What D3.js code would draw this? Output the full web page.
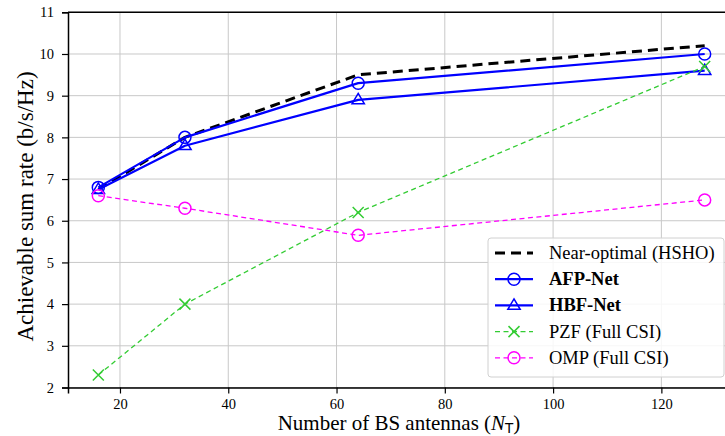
<!DOCTYPE html>
<html><head><meta charset="utf-8">
<script src="https://cdn.jsdelivr.net/npm/d3@7"></script>
<style>body{margin:0;background:#fff}svg{display:block}text{font-family:"Liberation Serif","Times New Roman",serif}</style>
</head><body><svg id="c" width="725" height="436"></svg>
<script>
const antennas = [16, 32, 64, 128];
const hsho = [6.75, 8.0, 9.5, 10.2];
const afp = [6.8, 8.0, 9.3, 10.0];
const hbf = [6.75, 7.8, 8.9, 9.6];
const pzf = [2.3, 4.0, 6.2, 9.7];
const omp = [6.6, 6.3, 5.65, 6.5];
const xTicks = [20, 40, 60, 80, 100, 120];
const yTicks = [2, 3, 4, 5, 6, 7, 8, 9, 10, 11];
const legendLabels = ["Near-optimal (HSHO)", "AFP-Net", "HBF-Net", "PZF (Full CSI)", "OMP (Full CSI)"];

const svg = d3.select("#c");
const L = 68, R = 735, T = 12.3, B = 387.5;
const x = d3.scaleLinear().domain([10.4, 133.6]).range([L, R]);
const y = d3.scaleLinear().domain([2, 11]).range([B, T]);

svg.append("defs").append("clipPath").attr("id", "cp")
  .append("rect").attr("x", L).attr("y", T - 8).attr("width", R - L).attr("height", B - T + 8);

// grid
const g = svg.append("g");
g.selectAll(".gx").data(xTicks).enter().append("line")
  .attr("x1", d => x(d)).attr("x2", d => x(d)).attr("y1", T).attr("y2", B)
  .attr("stroke", "#c8c8c8").attr("stroke-width", 1);
g.selectAll(".gy").data(yTicks).enter().append("line")
  .attr("x1", L).attr("x2", R).attr("y1", d => y(d)).attr("y2", d => y(d))
  .attr("stroke", "#c8c8c8").attr("stroke-width", 1);

// axes
const xAxis = d3.axisBottom(x).tickValues(xTicks).tickSize(6).tickPadding(5);
const yAxis = d3.axisLeft(y).tickValues(yTicks).tickSize(6).tickPadding(8);
const gx = svg.append("g").attr("transform", `translate(0,${B})`).call(xAxis);
const gy = svg.append("g").attr("transform", `translate(${L},0)`).call(yAxis);
[gx, gy].forEach(a => {
  a.attr("font-family", "Liberation Serif, serif");
  a.selectAll("text").attr("font-size", 14.5).attr("fill", "#000").style("font-family", "'Liberation Serif',serif");
  a.selectAll("line").attr("stroke", "#000").attr("stroke-width", 1.2);
  a.select(".domain").attr("stroke", "#000").attr("stroke-width", 1.5);
});
svg.append("line").attr("x1", L).attr("x2", R).attr("y1", T).attr("y2", T).attr("stroke", "#000").attr("stroke-width", 1.5);

const plot = svg.append("g").attr("clip-path", "url(#cp)");
const line = d3.line().x(d => x(d[0])).y(d => y(d[1]));
const pts = vals => antennas.map((a, i) => [a, vals[i]]);

const series = [
  {v: hsho, color: "#000", w: 3, dash: "10,6", marker: null},
  {v: afp, color: "#0000ff", w: 2.2, dash: null, marker: "circle"},
  {v: hbf, color: "#0000ff", w: 2.2, dash: null, marker: "tri"},
  {v: pzf, color: "#33cc33", w: 1.3, dash: "5,3.5", marker: "x"},
  {v: omp, color: "#ff00ff", w: 1.3, dash: "5,3.5", marker: "circle"}
];

function drawMarker(sel, type, color, cx, cy) {
  if (type === "circle") {
    sel.append("circle").attr("cx", cx).attr("cy", cy).attr("r", 6)
      .attr("fill", "none").attr("stroke", color).attr("stroke-width", 1.5);
  } else if (type === "tri") {
    const r = 6.5;
    sel.append("path").attr("d", `M${cx},${cy - r}L${cx + r * 0.95},${cy + r * 0.6}L${cx - r * 0.95},${cy + r * 0.6}Z`)
      .attr("fill", "none").attr("stroke", color).attr("stroke-width", 1.5);
  } else if (type === "x") {
    const r = 5.5;
    sel.append("path").attr("d", `M${cx - r},${cy - r}L${cx + r},${cy + r}M${cx - r},${cy + r}L${cx + r},${cy - r}`)
      .attr("stroke", color).attr("stroke-width", 1.5);
  }
}

series.forEach(s => {
  plot.append("path").datum(pts(s.v)).attr("d", line).attr("fill", "none")
    .attr("stroke", s.color).attr("stroke-width", s.w)
    .attr("stroke-dasharray", s.dash).attr("stroke-linejoin", "round");
  if (s.marker) pts(s.v).forEach(p => drawMarker(plot, s.marker, s.color, x(p[0]), y(p[1])));
});

// labels
svg.append("text").attr("x", 399).attr("y", 430).attr("text-anchor", "middle").attr("font-size", 21)
  .html('Number of BS antennas (<tspan font-style="italic">N</tspan><tspan font-size="13.5" dy="2.5" font-family="DejaVu Sans">T</tspan><tspan dy="-2.5">)</tspan>');
svg.append("text").attr("transform", "translate(33,206.5) rotate(-90)").attr("text-anchor", "middle")
  .attr("font-size", 23).text("Achievable sum rate (b/s/Hz)");

// legend
const lg = svg.append("g");
lg.append("rect").attr("x", 488).attr("y", 238).attr("width", 236).attr("height", 139).attr("rx", 3)
  .attr("fill", "rgba(255,255,255,0.85)").attr("stroke", "#d0d0d0").attr("stroke-width", 1);
series.forEach((s, i) => {
  const yy = 253 + i * 26.2;
  lg.append("line").attr("x1", 495).attr("x2", 533).attr("y1", yy).attr("y2", yy)
    .attr("stroke", s.color).attr("stroke-width", s.w).attr("stroke-dasharray", s.dash);
  if (s.marker) drawMarker(lg, s.marker, s.color, 514, yy);
  lg.append("text").attr("x", 549).attr("y", yy + 6).attr("font-size", 18.5)
    .attr("font-weight", (i === 1 || i === 2) ? "bold" : "normal").text(legendLabels[i]);
});
</script></body></html>
